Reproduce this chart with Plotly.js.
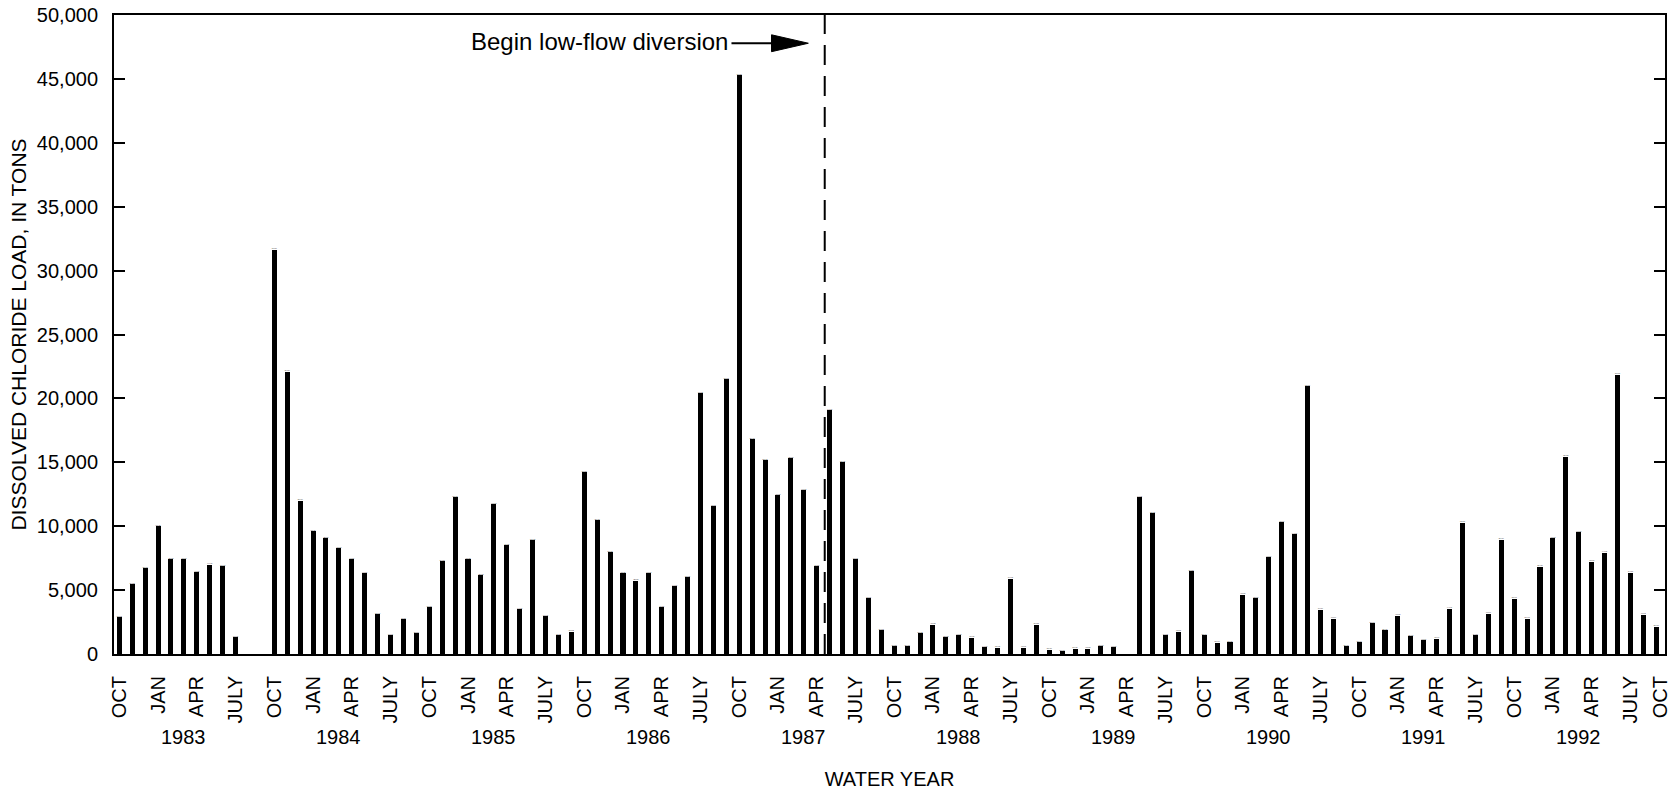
<!DOCTYPE html>
<html>
<head>
<meta charset="utf-8">
<script src="https://cdn.plot.ly/plotly-3.0.1.min.js"></script>
<style>
  html, body { margin: 0; padding: 0; background: #ffffff; }
  #chart { width: 1679px; height: 793px; }
</style>
</head>
<body>
<div id="chart"></div>
<script>
// ---- Data (monthly, water years 1983-1992, October through September) ----
const waterYears = ["1983", "1984", "1985", "1986", "1987", "1988", "1989", "1990", "1991", "1992"];
const monthNames = ["OCT", "NOV", "DEC", "JAN", "FEB", "MAR", "APR", "MAY", "JUN", "JULY", "AUG", "SEP"];
const quarterLabels = ["OCT", "JAN", "APR", "JULY"];
const endLabel = "OCT";

const load1983 = [2900, 5500, 6700, 10000, 7400, 7400, 6400, 7000, 6900, 1300, 0, 0];
const load1984 = [31650, 22100, 12000, 9650, 9100, 8300, 7400, 6300, 3150, 1500, 2750, 1650];
const load1985 = [3700, 7300, 12300, 7400, 6200, 11700, 8500, 3500, 8900, 3000, 1450, 1750];
const load1986 = [14250, 10450, 8000, 6350, 5750, 6300, 3700, 5300, 6050, 20400, 11600, 21500];
const load1987 = [45300, 16800, 15150, 12450, 15300, 12800, 6850, 19100, 15000, 7450, 4400, 1850];
const load1988 = [650, 650, 1650, 2300, 1350, 1450, 1280, 570, 500, 5900, 500, 2300];
const load1989 = [340, 260, 420, 420, 650, 570, 0, 12250, 11000, 1500, 1750, 6500];
const load1990 = [1450, 900, 950, 4650, 4400, 7600, 10350, 9400, 20950, 3470, 2770, 650];
const load1991 = [950, 2450, 1900, 3000, 1430, 1100, 1200, 3550, 10280, 1510, 3160, 8950];
const load1992 = [4330, 2770, 6840, 9100, 15450, 9570, 7230, 7930, 21860, 6370, 3080, 2140];

const diversionText = "Begin low-flow diversion";
const yTitle = "DISSOLVED CHLORIDE LOAD, IN TONS";
const xTitle = "WATER YEAR";

// ---- Build series ----
const allYears = [load1983, load1984, load1985, load1986, load1987, load1988, load1989, load1990, load1991, load1992];
const xIdx = [], yVals = [], hover = [];
allYears.forEach((arr, yi) => {
  arr.forEach((v, mi) => {
    xIdx.push(yi * 12 + mi);
    yVals.push(v);
    hover.push(monthNames[mi] + " WY" + waterYears[yi]);
  });
});

// tick positions: quarterly months, plus closing OCT at right end
const tickvals = [], ticktext = [];
waterYears.forEach((w, yi) => {
  [0, 3, 6, 9].forEach((m, k) => { tickvals.push(yi * 12 + m); ticktext.push(quarterLabels[k]); });
});
tickvals.push(119.35); ticktext.push(endLabel);

const FONT = '"Liberation Sans", Arial, Helvetica, sans-serif';

const yearAnnotations = waterYears.map((w, yi) => ({
  x: yi * 12 + 5, xref: 'x', y: -0.13, yref: 'paper',
  text: w, showarrow: false, xanchor: 'center', yanchor: 'middle',
  font: { family: FONT, size: 20, color: '#000' }
}));

// diversion marker (between April and May 1987)
const divX = 54.62;
const arrowY = 47790;

const trace = {
  type: 'bar', x: xIdx, y: yVals, text: hover, hoverinfo: 'text+y',
  marker: { color: '#000000', line: { width: 0 } },
  width: 0.39
};

const layout = {
  width: 1679, height: 793,
  margin: { l: 114, r: 14, t: 15, b: 139 },
  paper_bgcolor: '#ffffff', plot_bgcolor: '#ffffff',
  showlegend: false,
  font: { family: FONT, size: 20, color: '#000' },
  bargap: 0,
  xaxis: {
    range: [-0.41, 119.68],
    showline: true, linecolor: '#000', linewidth: 2, mirror: true,
    showgrid: false, zeroline: false,
    ticks: '', tickmode: 'array', tickvals: tickvals, ticktext: ticktext,
    tickangle: -90, tickfont: { family: FONT, size: 20, color: '#000' },
    ticklabelstandoff: 12,
    title: { text: xTitle, font: { family: FONT, size: 20, color: '#000' }, standoff: 50 },
    automargin: false
  },
  yaxis: {
    range: [0, 50000],
    showline: true, linecolor: '#000', linewidth: 2, mirror: 'ticks',
    showgrid: false, zeroline: false,
    ticks: 'inside', ticklen: 11, tickwidth: 2, tickcolor: '#000',
    tickmode: 'array',
    tickvals: [0, 5000, 10000, 15000, 20000, 25000, 30000, 35000, 40000, 45000, 50000],
    ticktext: ["0", "5,000", "10,000", "15,000", "20,000", "25,000", "30,000", "35,000", "40,000", "45,000", "50,000"],
    tickfont: { family: FONT, size: 20, color: '#000' },
    ticklabelstandoff: 10,
    title: { text: yTitle, font: { family: FONT, size: 21, color: '#000' }, standoff: 4 },
    automargin: false
  },
  shapes: [
    { type: 'line', xref: 'x', yref: 'paper', x0: divX, x1: divX, y0: 0, y1: 1,
      line: { color: '#000', width: 2, dash: '20px,11px' } },
    { type: 'line', xref: 'x', yref: 'y', x0: 47.4, x1: 50.8, y0: arrowY, y1: arrowY,
      line: { color: '#000', width: 2 } },
    { type: 'path', xref: 'x', yref: 'y',
      path: 'M 50.5 ' + (arrowY + 660) + ' L 53.35 ' + arrowY + ' L 50.5 ' + (arrowY - 660) + ' Z',
      fillcolor: '#000', line: { color: '#000', width: 1 } }
  ],
  annotations: yearAnnotations.concat([
    { x: 47.3, xref: 'x', y: 47950, yref: 'y', text: diversionText, showarrow: false,
      xanchor: 'right', yanchor: 'middle', font: { family: FONT, size: 24, color: '#000' } }
  ])
};

Plotly.newPlot('chart', [trace], layout, { displayModeBar: false, staticPlot: true });
</script>
</body>
</html>
